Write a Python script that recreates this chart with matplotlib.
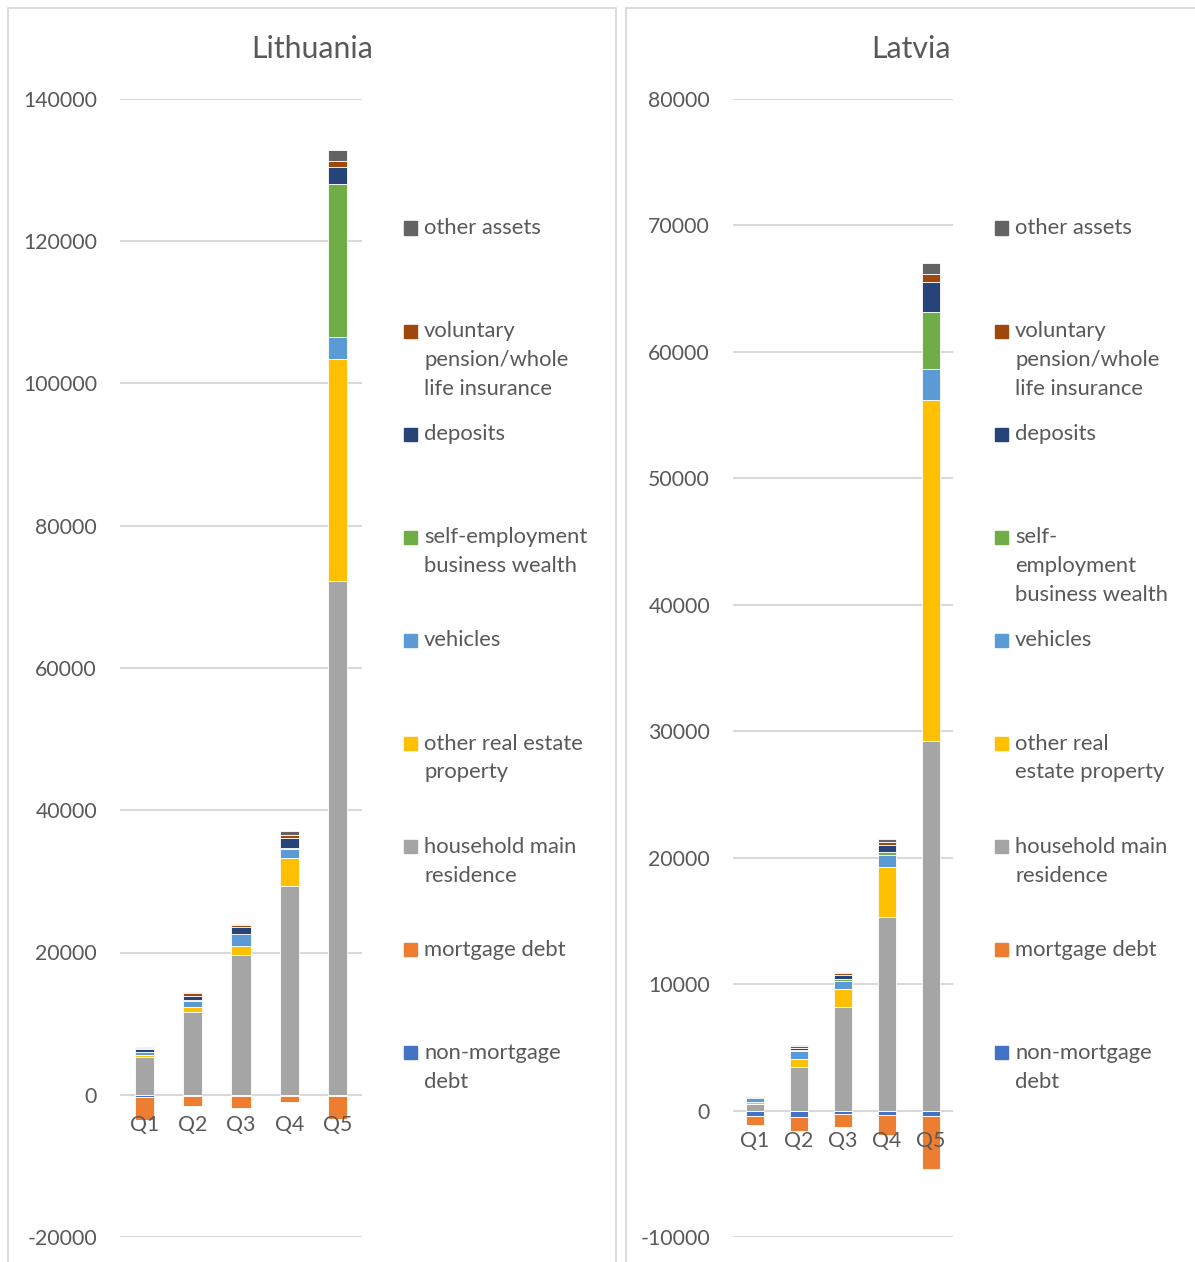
import numpy as np
import matplotlib.pyplot as plt
from matplotlib.patches import Rectangle
from matplotlib import transforms

plt.rcParams["font.family"] = ["Lato", "DejaVu Sans"]

quintiles = ["Q1", "Q2", "Q3", "Q4", "Q5"]

series = [
    "non-mortgage debt",
    "mortgage debt",
    "household main residence",
    "other real estate property",
    "vehicles",
    "self-employment business wealth",
    "deposits",
    "voluntary pension/whole life insurance",
    "other assets",
]
colors = ["#4472C4", "#ED7D31", "#A5A5A5", "#FFC000", "#5B9BD5",
          "#70AD47", "#264478", "#9E480E", "#636363"]

# Lithuania (EUR), one list per series, Q1..Q5
lt_nonmort = [-300, -230, -230, -140, -150]
lt_mort = [-3200, -1400, -1640, -940, -3200]
lt_main = [5300, 11700, 19600, 29300, 72300]
lt_realest = [280, 700, 1310, 3980, 31200]
lt_vehicles = [420, 800, 1640, 1310, 3100]
lt_selfemp = [60, 60, 100, 140, 21500]
lt_deposits = [330, 600, 890, 1360, 2290]
lt_pension = [190, 420, 280, 470, 840]
lt_other = [100, 100, 190, 470, 1650]

# Latvia (EUR)
lv_nonmort = [-470, -530, -240, -320, -400]
lv_mort = [-710, -1110, -1050, -1600, -4200]
lv_main = [550, 3460, 8170, 15320, 29190]
lv_realest = [160, 580, 1480, 3930, 26970]
lv_vehicles = [260, 690, 630, 950, 2450]
lv_selfemp = [30, 50, 160, 210, 4540]
lv_deposits = [80, 160, 320, 580, 2370]
lv_pension = [40, 130, 100, 210, 610]
lv_other = [40, 100, 80, 240, 870]

lt_data = [lt_nonmort, lt_mort, lt_main, lt_realest, lt_vehicles,
           lt_selfemp, lt_deposits, lt_pension, lt_other]
lv_data = [lv_nonmort, lv_mort, lv_main, lv_realest, lv_vehicles,
           lv_selfemp, lv_deposits, lv_pension, lv_other]

lt_labels = ["other assets", "voluntary\npension/whole\nlife insurance", "deposits",
             "self-employment\nbusiness wealth", "vehicles", "other real estate\nproperty",
             "household main\nresidence", "mortgage debt", "non-mortgage\ndebt"]
lv_labels = ["other assets", "voluntary\npension/whole\nlife insurance", "deposits",
             "self-\nemployment\nbusiness wealth", "vehicles", "other real\nestate property",
             "household main\nresidence", "mortgage debt", "non-mortgage\ndebt"]

W, H = 1195, 1262
txt = "#595959"
grid = "#d9d9d9"

fig = plt.figure(figsize=(W / 100, H / 100), dpi=100)


def fx(px):
    return px / W


def fy(py):
    return 1 - py / H


# chart borders
for x0, x1 in [(8, 616), (626, 1200)]:
    fig.patches.append(Rectangle((fx(x0), fy(1270)), fx(x1 - x0), (1270 - 8) / H,
                                 transform=fig.transFigure, fill=False,
                                 edgecolor=grid, lw=1.3))


def draw(data, title, ax_px, ylim, step, title_x, leg_x, labels):
    left, right = ax_px
    ax = fig.add_axes([fx(left), fy(1237), fx(right - left), (1237 - 99) / H])
    x = np.arange(len(quintiles))
    pos = np.zeros(len(quintiles))
    neg = np.zeros(len(quintiles))
    for vals, c in zip(data, colors):
        v = np.array(vals, dtype=float)
        base = np.where(v >= 0, pos, neg)
        ax.bar(x, v, bottom=base, width=0.4, color=c, edgecolor="white",
               linewidth=0.6, zorder=2)
        pos = pos + np.where(v >= 0, v, 0)
        neg = neg + np.where(v < 0, v, 0)
    ax.set_xlim(-0.5, 4.5)
    ax.set_ylim(*ylim)
    ticks = np.arange(ylim[0], ylim[1] + 1, step)
    ax.set_yticks(ticks)
    ax.set_yticklabels([str(int(t)) for t in ticks], fontsize=15.3, color=txt)
    ax.tick_params(axis="y", length=0, pad=16.5)
    ax.set_xticks([])
    for s in ax.spines.values():
        s.set_visible(False)
    ax.grid(axis="y", color=grid, lw=1.5)
    ax.set_axisbelow(True)
    tr = transforms.offset_copy(ax.transData, fig=fig, y=-30 * 0.72, units="points")
    for i, q in enumerate(quintiles):
        ax.text(i, 0, q, transform=tr, ha="center", va="center",
                fontsize=15.3, color=txt, zorder=5)
    fig.text(fx(title_x), fy(49), title, ha="center", va="center",
             fontsize=21.8, color=txt)
    # legend, top to bottom in reverse series order
    for k, (lab, c) in enumerate(zip(labels, colors[::-1])):
        yc = 228 + k * 103.1
        fig.patches.append(Rectangle((fx(leg_x), fy(yc + 6.5)), fx(13), 13 / H,
                                     transform=fig.transFigure, color=c))
        for j, line in enumerate(lab.split("\n")):
            fig.text(fx(leg_x + 20), fy(yc + j * 29), line, ha="left",
                     va="center", fontsize=15.8, color=txt)
    return ax


draw(lt_data, "Lithuania", (120, 362), (-20000, 140000), 20000, 312, 404, lt_labels)
draw(lv_data, "Latvia", (733, 953), (-10000, 80000), 10000, 911, 995, lv_labels)

fig.savefig("out.png", dpi=100)
